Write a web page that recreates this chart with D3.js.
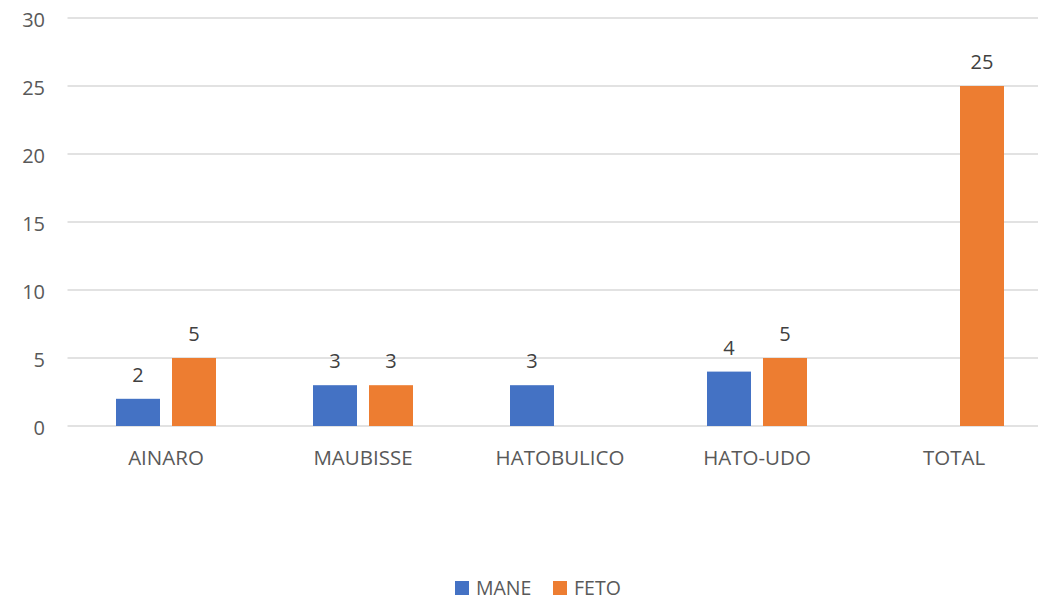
<!DOCTYPE html>
<html><head><meta charset="utf-8">
<script src="https://cdn.jsdelivr.net/npm/d3@7"></script>
<style>body{margin:0;background:#fff}svg{display:block}text{font-family:"Open Sans",Carlito,sans-serif}</style>
</head><body><svg id="c" width="1038" height="601"></svg>
<script>
const categories = ["AINARO","MAUBISSE","HATOBULICO","HATO-UDO","TOTAL"];
const seriesNames = ["MANE","FETO"];
const mane = [2,3,3,4,null];
const feto = [5,3,null,5,25];
const yTicks = [0,5,10,15,20,25,30];
const colors = ["#4472C4","#ED7D31"];

const svg = d3.select("#c");
const x = d3.scaleBand().domain(categories).range([67.5,1052.5]);
const y = d3.scaleLinear().domain([0,30]).range([426,18]);
const barW = 44, gap = 12;

svg.append("g").selectAll("line").data(yTicks).join("line")
  .attr("x1",67.5).attr("x2",1052.5)
  .attr("y1",d=>y(d)).attr("y2",d=>y(d))
  .attr("stroke","#D9D9D9").attr("stroke-width",1.3);

svg.append("g").selectAll("text").data(yTicks).join("text")
  .attr("x",45).attr("y",d=>y(d)+8.5).attr("text-anchor","end")
  .attr("font-size",20).attr("fill","#595959").text(d=>d);

const series = [mane, feto];
series.forEach((vals,si)=>{
  const data = categories.map((c,i)=>({c,v:vals[i]})).filter(d=>d.v!=null);
  const off = si===0 ? -(barW+gap/2) : gap/2;
  const g = svg.append("g");
  g.selectAll("rect").data(data).join("rect")
    .attr("x",d=>x(d.c)+x.bandwidth()/2+off)
    .attr("width",barW)
    .attr("y",d=>y(d.v)).attr("height",d=>y(0)-y(d.v))
    .attr("fill",colors[si]);
  g.selectAll("text").data(data).join("text")
    .attr("x",d=>x(d.c)+x.bandwidth()/2+off+barW/2)
    .attr("y",d=>y(d.v)-17).attr("text-anchor","middle")
    .attr("font-size",20).attr("fill","#404040").text(d=>d.v);
});

svg.append("g").selectAll("text").data(categories).join("text")
  .attr("x",d=>x(d)+x.bandwidth()/2).attr("y",465).attr("text-anchor","middle")
  .attr("font-size",20.5).attr("fill","#595959").text(d=>d);

const legX = [455,553];
seriesNames.forEach((n,i)=>{
  svg.append("rect").attr("x",legX[i]).attr("y",581).attr("width",14).attr("height",14).attr("fill",colors[i]);
  svg.append("text").attr("x",legX[i]+21).attr("y",595).attr("font-size",19.5).attr("fill","#595959").text(n);
});
</script></body></html>
